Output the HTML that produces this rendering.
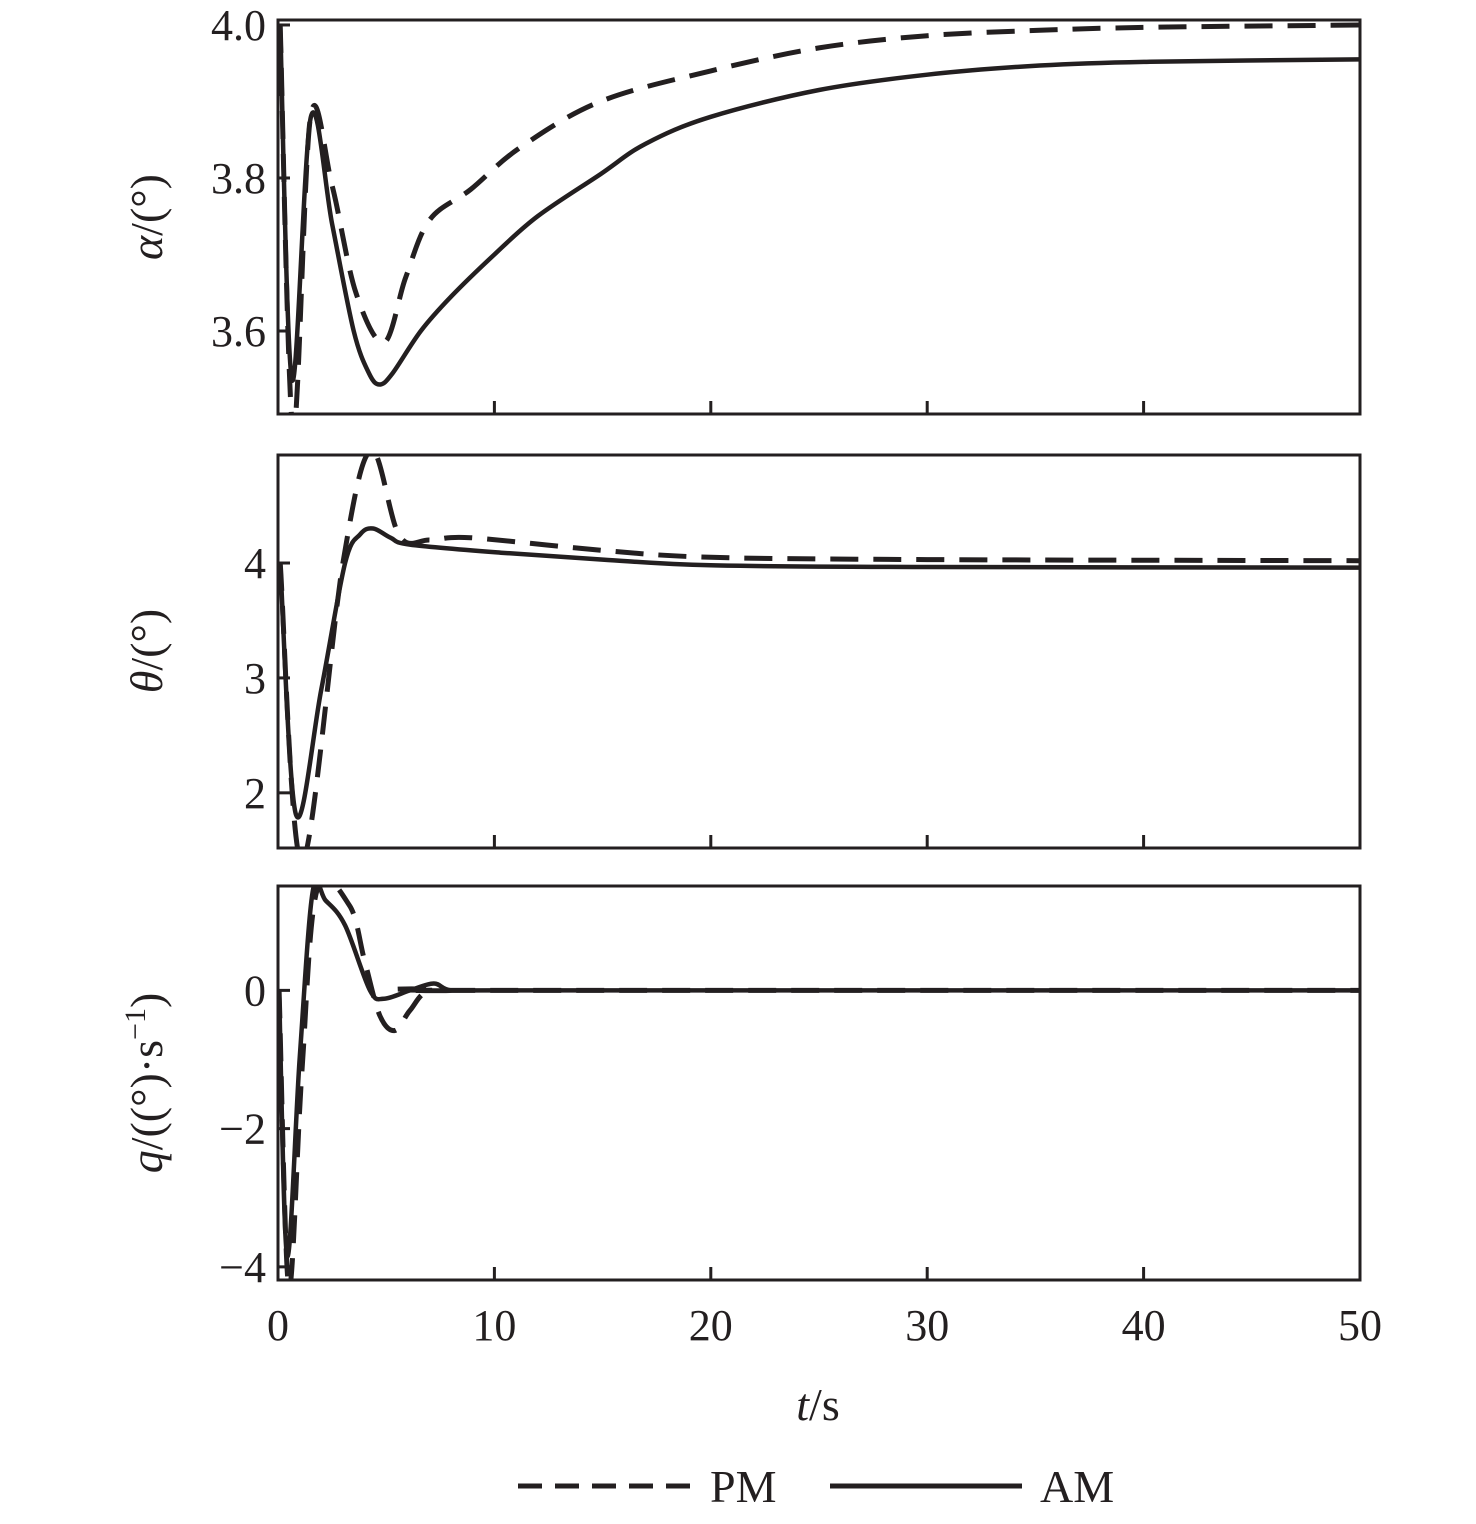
<!DOCTYPE html>
<html><head><meta charset="utf-8"><style>
html,body{margin:0;padding:0;background:#fff}
svg text{font-family:"Liberation Serif",serif;fill:#231f20}
</style></head><body>
<svg id="c" width="1476" height="1519" viewBox="0 0 1476 1519" xmlns="http://www.w3.org/2000/svg"></svg>
<script>
const tAlphaAM=[0.1,0.65,1.52,2.5,3.5,4.2,4.7,5.3,6.6,8,10,12,14.9,17,20,25,30,35.2,40.3,50];
const vAlphaAM=[4.0,3.536,3.88,3.74,3.6,3.545,3.53,3.545,3.6,3.645,3.7,3.75,3.805,3.845,3.88,3.915,3.935,3.947,3.952,3.955];
const tAlphaPM=[0.1,0.7,1.5,2.5,3.6,4.9,5.9,7,8.9,11.2,14.9,20,25,30,35.2,40.3,50];
const vAlphaPM=[4.0,3.47,3.88,3.79,3.65,3.585,3.67,3.745,3.785,3.84,3.9,3.94,3.97,3.986,3.993,3.997,4.0];
const tThetaAM=[0.1,0.83,2,3.1,3.8,4.4,5.2,6.1,10.3,15,20,30,50];
const vThetaAM=[4.0,1.81,2.9,4.0,4.25,4.30,4.22,4.16,4.09,4.03,3.98,3.965,3.96];
const tThetaPM=[0.1,1.1,3.0,4.3,5.6,7,8.9,15,20,30,50];
const vThetaPM=[4.0,1.4,4.0,4.98,4.24,4.2,4.22,4.11,4.05,4.03,4.02];
const tQAM=[0.05,0.42,1.0,1.6,2.2,3.1,4.25,4.9,6.1,7.2,8,10,50];
const vQAM=[0,-3.84,-1.0,1.42,1.3,0.94,0,-0.12,0,0.1,0,0,0];
const tQPM=[0.05,0.5,1.1,1.8,3.3,4.0,4.7,5.4,6.1,7,9,50];
const vQPM=[0,-4.3,-1.2,1.45,1.23,0.43,-0.36,-0.58,-0.29,0,0,0];
const xTicks=[0,10,20,30,40,50];
const alphaTicks=[3.6,3.8,4.0];
const thetaTicks=[2,3,4];
const qTicks=[-4,-2,0];

const NS="http://www.w3.org/2000/svg";
const svg=document.getElementById('c');
function el(tag,attrs,parent){const e=document.createElementNS(NS,tag);for(const k in attrs)e.setAttribute(k,attrs[k]);(parent||svg).appendChild(e);return e;}
const X0=278,X1=1360;
const xs=t=>X0+(t-0)/(50-0)*(X1-X0);
const panels=[
 {name:'alpha',top:20,bot:414,ymin:3.4915,ymax:4.0065,ticks:alphaTicks,fmt:v=>v.toFixed(1),am:[tAlphaAM,vAlphaAM],pm:[tAlphaPM,vAlphaPM],label:['α','/(°)'],ly:217},
 {name:'theta',top:455,bot:848,ymin:1.52,ymax:4.94,ticks:thetaTicks,fmt:v=>String(v),am:[tThetaAM,vThetaAM],pm:[tThetaPM,vThetaPM],label:['θ','/(°)'],ly:651},
 {name:'q',top:886,bot:1280,ymin:-4.19,ymax:1.51,ticks:qTicks,fmt:v=>v<0?'−'+Math.abs(v):String(v),am:[tQAM,vQAM],pm:[tQPM,vQPM],label:['q','/((°)·s'],ly:1083}
];
function smooth(P){
  let d='M'+P[0][0].toFixed(1)+','+P[0][1].toFixed(1);
  for(let i=0;i<P.length-1;i++){
    const p0=P[i-1]||P[i],p1=P[i],p2=P[i+1],p3=P[i+2]||P[i+1];
    const c1=[p1[0]+(p2[0]-p0[0])/6,p1[1]+(p2[1]-p0[1])/6];
    const c2=[p2[0]-(p3[0]-p1[0])/6,p2[1]-(p3[1]-p1[1])/6];
    d+=' C'+c1.map(v=>v.toFixed(1))+' '+c2.map(v=>v.toFixed(1))+' '+p2.map(v=>v.toFixed(1));
  }
  return d;
}
const defs=el('defs',{});
panels.forEach((p,i)=>{
  const ys=v=>p.bot-(v-p.ymin)/(p.ymax-p.ymin)*(p.bot-p.top);
  const cp=el('clipPath',{id:'clip'+i},defs);
  el('rect',{x:X0,y:p.top,width:X1-X0,height:p.bot-p.top},cp);
  const g=el('g',{});
  
  
  const lines=el('g',{'clip-path':'url(#clip'+i+')'},g);
  function path(ts,vs){return smooth(ts.map((t,j)=>[xs(t),ys(vs[j])]));}
  const pm=el('path',{d:path(p.pm[0],p.pm[1]),fill:'none',stroke:'#231f20','stroke-width':5,'stroke-dasharray':'28 15','stroke-linejoin':'round'},lines);
  
  
  const am=el('path',{d:path(p.am[0],p.am[1]),fill:'none',stroke:'#231f20','stroke-width':4.5,'stroke-linejoin':'round'},lines);
  
  
  const fr=el('rect',{x:X0,y:p.top,width:X1-X0,height:p.bot-p.top,fill:'none',stroke:'#231f20','stroke-width':3},g);
  
  
  xTicks.forEach(t=>{if(t>0&&t<50)el('line',{x1:xs(t),x2:xs(t),y1:p.bot,y2:p.bot-13,stroke:'#231f20','stroke-width':3},g);});
  p.ticks.forEach(v=>{
    el('line',{x1:X0,x2:X0+12,y1:ys(v),y2:ys(v),stroke:'#231f20','stroke-width':3},g);
    const tx=el('text',{x:X0-12,y:ys(v)+15,'font-size':44,'text-anchor':'end'},g);
    tx.textContent=p.fmt(v);
    
    
  });
  const lab=el('text',{transform:'translate(162,'+p.ly+') rotate(-90)','font-size':46,'text-anchor':'middle'},g);
  
  
  const s1=el('tspan',{'font-style':'italic'},lab);s1.textContent=p.label[0];
  const s2=el('tspan',{},lab);s2.textContent=p.label[1];
  if(p.name==='q'){const s3=el('tspan',{'font-size':30,dy:-17},lab);s3.textContent='−1';const s4=el('tspan',{dy:17},lab);s4.textContent=')';}
});
xTicks.forEach(t=>{
  const tx=el('text',{x:xs(t),y:1340,'font-size':44,'text-anchor':'middle'});
  tx.textContent=String(t);
  
  
});
const xt=el('text',{x:818,y:1420,'font-size':46,'text-anchor':'middle'});


const a=el('tspan',{'font-style':'italic'},xt);a.textContent='t';const b=el('tspan',{},xt);b.textContent='/s';
const leg=el('g',{});


el('line',{x1:518,x2:698,y1:1486,y2:1486,stroke:'#231f20','stroke-width':5,'stroke-dasharray':'24 13'},leg);
const t1=el('text',{x:710,y:1502,'font-size':46},leg);t1.textContent='PM';
el('line',{x1:830,x2:1022,y1:1486,y2:1486,stroke:'#231f20','stroke-width':5},leg);
const t2=el('text',{x:1040,y:1502,'font-size':46},leg);t2.textContent='AM';
</script>
</body></html>
